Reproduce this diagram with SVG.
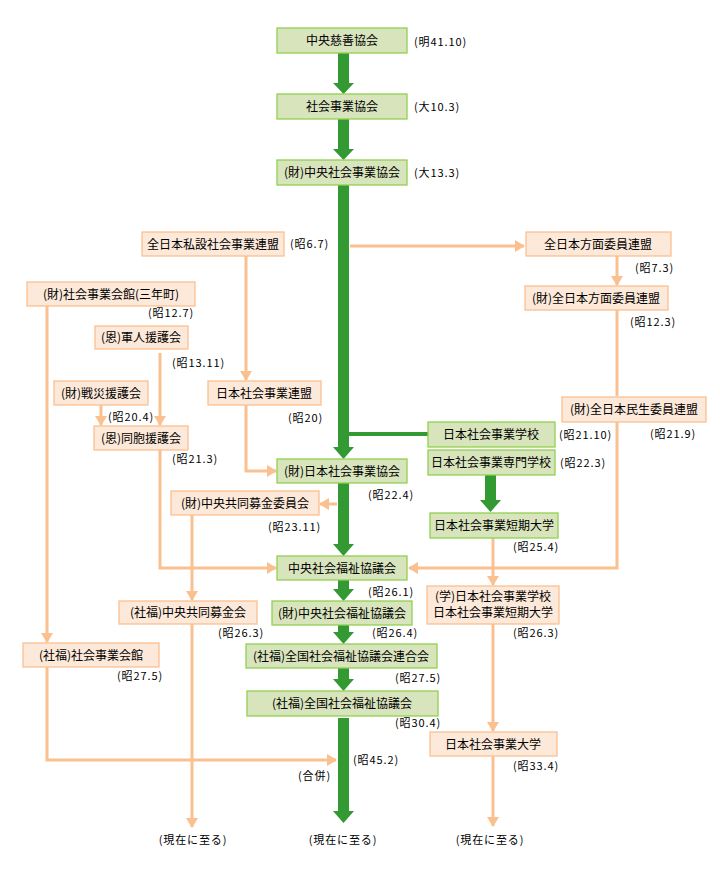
<svg xmlns="http://www.w3.org/2000/svg" width="720" height="873" viewBox="0 0 720 873">
<defs>
<style>
.g rect{fill:#d8e4bc;stroke:#92d050;stroke-width:1.3}
.o rect{fill:#fde9d9;stroke:#fac090;stroke-width:1.3}
text{font-family:"Noto Sans CJK JP","Liberation Sans",sans-serif;fill:#000}
.t{font-size:12px;text-anchor:middle}
.l{font-size:11px;letter-spacing:0.9px}
.c{font-size:11px;letter-spacing:0.9px;text-anchor:middle}
.ol{fill:none;stroke:#fac090;stroke-width:3;marker-end:url(#ah)}
.on{fill:none;stroke:#fac090;stroke-width:3}
.ga{fill:#339933}
</style>
<marker id="ah" markerUnits="userSpaceOnUse" markerWidth="10" markerHeight="12" refX="9" refY="6" orient="auto" viewBox="0 0 10 12">
<path d="M0,0 L10,6 L0,12 z" fill="#fac090"/>
</marker>
</defs>
<rect width="720" height="873" fill="#fff"/>

<g id="connectors">
<path class="ga" d="M338,53 H349 V83 H354 L343.5,94 L333,83 H338 z"/>
<path class="ga" d="M338,119 H349 V149 H354 L343.5,160 L333,149 H338 z"/>
<path class="ga" d="M338,185 H349 V447 H354 L343.5,459 L333,447 H338 z"/>
<path class="ga" d="M338,483 H349 V544 H354 L343.5,556 L333,544 H338 z"/>
<path class="ga" d="M338,580 H349 V589 H354 L343.5,601 L333,589 H338 z"/>
<path class="ga" d="M338,625 H349 V632 H354 L343.5,644 L333,632 H338 z"/>
<path class="ga" d="M338,668 H349 V679 H354 L343.5,691 L333,679 H338 z"/>
<path class="ga" d="M338,718 H349 V811 H354 L343.5,823 L333,811 H338 z"/>
<path class="ga" d="M485,475 H496 V500 H501 L490.5,512 L480,500 H485 z"/>
<line x1="349" y1="434" x2="428" y2="434" stroke="#339933" stroke-width="4"/>

<path class="ol" d="M350,246 H524"/>
<path class="ol" d="M617,256 V285"/>
<path class="on" d="M617,310 V396"/>
<path class="ol" d="M617,422 V568 H409"/>
<path class="ol" d="M246,256 V380"/>
<path class="ol" d="M246,405 V471 H276"/>
<path class="ol" d="M47,306 V642"/>
<path class="ol" d="M47,667 V760 H336"/>
<path class="ol" d="M160,353 V425"/>
<path class="ol" d="M101,405 V425"/>
<path class="ol" d="M160,450 V568 H276"/>
<path class="ol" d="M337,504 H320"/>
<path class="ol" d="M192,515 V600"/>
<path class="ol" d="M192,624 V827"/>
<path class="ol" d="M493,538 V585"/>
<path class="ol" d="M493,624 V731"/>
<path class="ol" d="M493,756 V826"/>
</g>

<g id="n1" class="g"><rect x="277" y="28" width="130" height="25"/><text class="t" x="342" y="45">中央慈善協会</text></g>
<g id="n2" class="g"><rect x="277" y="94" width="130" height="25"/><text class="t" x="342" y="111">社会事業協会</text></g>
<g id="n3" class="g"><rect x="277" y="160" width="130" height="25"/><text class="t" x="342" y="177">(財)中央社会事業協会</text></g>
<g id="n4" class="o"><rect x="142" y="232" width="142" height="24"/><text class="t" x="213" y="249">全日本私設社会事業連盟</text></g>
<g id="n5" class="o"><rect x="526" y="232" width="145" height="24"/><text class="t" x="598" y="249">全日本方面委員連盟</text></g>
<g id="n6" class="o"><rect x="27" y="282" width="168" height="24"/><text class="t" x="111" y="299">(財)社会事業会館(三年町)</text></g>
<g id="n7" class="o"><rect x="525" y="286" width="143" height="24"/><text class="t" x="596" y="303">(財)全日本方面委員連盟</text></g>
<g id="n8" class="o"><rect x="95" y="326" width="93" height="23"/><text class="t" x="141" y="342">(恩)軍人援護会</text></g>
<g id="n9" class="o"><rect x="54" y="381" width="94" height="24"/><text class="t" x="101" y="398">(財)戦災援護会</text></g>
<g id="n10" class="o"><rect x="208" y="381" width="113" height="24"/><text class="t" x="264" y="398">日本社会事業連盟</text></g>
<g id="n11" class="o"><rect x="562" y="397" width="144" height="25"/><text class="t" x="634" y="414">(財)全日本民生委員連盟</text></g>
<g id="n12" class="g"><rect x="428" y="422" width="127" height="25"/><text class="t" x="491" y="439">日本社会事業学校</text></g>
<g id="n13" class="o"><rect x="94" y="426" width="94" height="24"/><text class="t" x="141" y="443">(恩)同胞援護会</text></g>
<g id="n14" class="g"><rect x="428" y="450" width="127" height="25"/><text class="t" x="491" y="467">日本社会事業専門学校</text></g>
<g id="n15" class="g"><rect x="277" y="459" width="130" height="24"/><text class="t" x="342" y="476">(財)日本社会事業協会</text></g>
<g id="n16" class="o"><rect x="171" y="491" width="148" height="24"/><text class="t" x="245" y="508">(財)中央共同募金委員会</text></g>
<g id="n17" class="g"><rect x="430" y="513" width="128" height="25"/><text class="t" x="494" y="530">日本社会事業短期大学</text></g>
<g id="n18" class="g"><rect x="277" y="556" width="130" height="24"/><text class="t" x="342" y="573">中央社会福祉協議会</text></g>
<g id="n19" class="o"><rect x="427" y="586" width="132" height="38"/><text class="t" x="493" y="601">(学)日本社会事業学校</text><text class="t" x="493" y="617">日本社会事業短期大学</text></g>
<g id="n20" class="o"><rect x="119" y="601" width="138" height="23"/><text class="t" x="188" y="617">(社福)中央共同募金会</text></g>
<g id="n21" class="g"><rect x="272" y="601" width="140" height="24"/><text class="t" x="342" y="618">(財)中央社会福祉協議会</text></g>
<g id="n22" class="o"><rect x="23" y="643" width="136" height="24"/><text class="t" x="91" y="660">(社福)社会事業会館</text></g>
<g id="n23" class="g"><rect x="246" y="644" width="191" height="24"/><text class="t" x="341" y="661">(社福)全国社会福祉協議会連合会</text></g>
<g id="n24" class="g"><rect x="247" y="691" width="191" height="25"/><text class="t" x="342" y="708">(社福)全国社会福祉協議会</text></g>
<g id="n25" class="o"><rect x="430" y="732" width="127" height="24"/><text class="t" x="493" y="749">日本社会事業大学</text></g>

<g id="labels">
<text class="l" x="414" y="46">(明41.10)</text>
<text class="l" x="414" y="111">(大10.3)</text>
<text class="l" x="414" y="177">(大13.3)</text>
<text class="l" x="290" y="248">(昭6.7)</text>
<text class="l" x="635" y="272">(昭7.3)</text>
<text class="l" x="148" y="317">(昭12.7)</text>
<text class="l" x="630" y="326">(昭12.3)</text>
<text class="l" x="172" y="367">(昭13.11)</text>
<text class="l" x="108" y="421">(昭20.4)</text>
<text class="l" x="288" y="422">(昭20)</text>
<text class="l" x="559" y="439">(昭21.10)</text>
<text class="l" x="650" y="438">(昭21.9)</text>
<text class="l" x="172" y="463">(昭21.3)</text>
<text class="l" x="560" y="467">(昭22.3)</text>
<text class="l" x="368" y="499">(昭22.4)</text>
<text class="l" x="268" y="531">(昭23.11)</text>
<text class="l" x="513" y="551">(昭25.4)</text>
<text class="l" x="368" y="596">(昭26.1)</text>
<text class="l" x="218" y="637">(昭26.3)</text>
<text class="l" x="372" y="637">(昭26.4)</text>
<text class="l" x="513" y="637">(昭26.3)</text>
<text class="l" x="117" y="680">(昭27.5)</text>
<text class="l" x="395" y="682">(昭27.5)</text>
<text class="l" x="395" y="727">(昭30.4)</text>
<text class="l" x="353" y="764">(昭45.2)</text>
<text class="l" x="513" y="770">(昭33.4)</text>
<text class="l" x="298" y="780">(合併)</text>
<text class="c" x="193" y="844">(現在に至る)</text>
<text class="c" x="343" y="844">(現在に至る)</text>
<text class="c" x="490" y="844">(現在に至る)</text>
</g>
</svg>
